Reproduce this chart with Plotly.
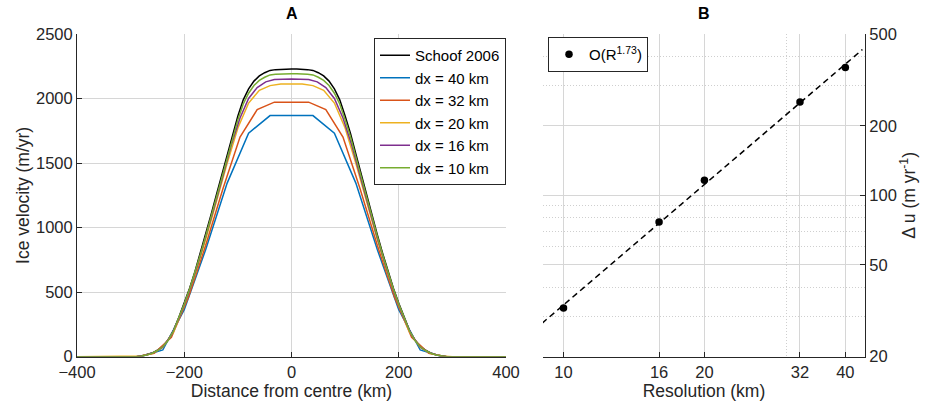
import numpy as np
import plotly.graph_objects as go

# ---------------- Panel A data (ice velocity, m/yr) ----------------
dist_10 = list(range(-400, 401, 10))
dist_16 = list(range(-400, 401, 16))
dist_20 = list(range(-400, 401, 20))
dist_32 = list(range(-384, 385, 32))
dist_40 = list(range(-400, 401, 40))

schoof_2006 = [0, 0, 0, 0, 0, 0, 0, 0, 0, 0, 0, 0,
               6, 14, 28, 50, 80, 130, 205, 305, 414, 530, 660, 800, 945, 1100, 1255,
               1410, 1570, 1730, 1865, 1990, 2075, 2135, 2175, 2200, 2218, 2224, 2227, 2228,
               2228,
               2228, 2227, 2224, 2218, 2200, 2175, 2135, 2075, 1990, 1865, 1730, 1570, 1410,
               1255, 1100, 945, 800, 660, 530, 414, 305, 205, 130, 80, 50, 28, 14, 6,
               0, 0, 0, 0, 0, 0, 0, 0, 0, 0, 0, 0]

vel_dx10 = [0, 0, 0, 0, 0, 0, 0, 0, 0, 0, 0, 0,
            6, 13, 27, 48, 77, 127, 201, 301, 409, 524, 652, 790, 933, 1086, 1238,
            1390, 1548, 1704, 1836, 1958, 2041, 2101, 2140, 2165, 2183, 2188, 2191, 2192,
            2192,
            2192, 2191, 2188, 2183, 2165, 2140, 2101, 2041, 1958, 1836, 1704, 1548, 1390,
            1238, 1086, 933, 790, 652, 524, 409, 301, 201, 127, 77, 48, 27, 13, 6,
            0, 0, 0, 0, 0, 0, 0, 0, 0, 0, 0, 0]

vel_dx16 = [0, 0, 0, 0, 0, 0, 0,
            1, 11, 34, 74, 168, 318, 492, 698, 920, 1160, 1399, 1644, 1850, 2001, 2085,
            2129, 2147, 2150,
            2151,
            2150, 2147, 2129, 2085, 2001, 1850, 1644, 1399, 1160, 920, 698, 492, 318, 168,
            74, 34, 11, 1,
            0, 0, 0, 0, 0, 0, 0]

vel_dx20 = [0, 0, 0, 0, 0, 0,
            5, 24, 71, 193, 398, 635, 908, 1202, 1498, 1772, 1965, 2064, 2100, 2112,
            2112,
            2112, 2100, 2064, 1965, 1772, 1498, 1202, 908, 635, 398, 193, 71, 24, 5,
            0, 0, 0, 0, 0, 0]

vel_dx32 = [0, 0, 0, 0,
            26, 151, 462, 863, 1299, 1701, 1914, 1972,
            1972,
            1972, 1914, 1701, 1299, 863, 462, 151, 26,
            0, 0, 0, 0]

vel_dx40 = [0, 0, 0,
            2, 52, 364, 830, 1345, 1732, 1868,
            1868,
            1868, 1732, 1345, 830, 364, 52, 2,
            0, 0, 0]

series_names = ["Schoof 2006", "dx = 40 km", "dx = 32 km", "dx = 20 km", "dx = 16 km", "dx = 10 km"]
series_x = [dist_10, dist_40, dist_32, dist_20, dist_16, dist_10]
series_y = [schoof_2006, vel_dx40, vel_dx32, vel_dx20, vel_dx16, vel_dx10]
series_colors = ["#000000", "#0072BD", "#D95319", "#EDB120", "#7E2F8E", "#77AC30"]

# ---------------- Panel B data ----------------
resolution_km = [10, 16, 20, 32, 40]
delta_u = [32.5, 76.6, 116.4, 254, 358]
fit_extent = [9, 43.5]

slope, intercept = np.polyfit(np.log10(resolution_km), np.log10(delta_u), 1)
fit_x = np.array(fit_extent, dtype=float)
fit_y = 10 ** (intercept + slope * np.log10(fit_x))

FONT = "Liberation Sans"
AX = "#262626"
GRID = "#d6d6d6"
MINOR = "#cfcfcf"
TICK_SIZE = 16.5
TITLE_SIZE = 17.5

fig = go.Figure()
for name, xs, ys, col in zip(series_names, series_x, series_y, series_colors):
    fig.add_trace(go.Scatter(x=xs, y=ys, mode="lines", name=name,
                             line=dict(color=col, width=1.5),
                             xaxis="x", yaxis="y", legend="legend"))

fig.add_trace(go.Scatter(x=fit_x, y=fit_y, mode="lines", showlegend=False,
                         line=dict(color="black", width=1.5, dash="6px,4px"),
                         xaxis="x2", yaxis="y2"))
fig.add_trace(go.Scatter(x=resolution_km, y=delta_u, mode="markers",
                         name="O(R<sup>1.73</sup>)",
                         marker=dict(color="black", size=7.5),
                         xaxis="x2", yaxis="y2", legend="legend2"))

common = dict(showline=True, linecolor=AX, linewidth=1, ticks="inside", ticklen=5,
              tickcolor=AX, tickfont=dict(family=FONT, size=TICK_SIZE, color=AX),
              showgrid=True, gridcolor=GRID, gridwidth=1, zeroline=False,
              mirror=False)

fig.update_layout(
    width=930, height=406, autosize=False,
    margin=dict(l=0, r=0, t=0, b=0),
    paper_bgcolor="white", plot_bgcolor="white",
    template="none",
    font=dict(family=FONT, color=AX),
    xaxis=dict(domain=[77 / 930, 506 / 930], range=[-400, 400],
               tickvals=[-400, -200, 0, 200, 400], anchor="y",
               title=dict(text="Distance from centre (km)", font=dict(size=TITLE_SIZE, color=AX), standoff=1),
               **common),
    yaxis=dict(domain=[(406 - 356.7) / 406, (406 - 34) / 406], range=[0, 2500],
               tickvals=[0, 500, 1000, 1500, 2000, 2500], anchor="x",
               title=dict(text="Ice velocity (m/yr)", font=dict(size=TITLE_SIZE, color=AX), standoff=1),
               **common),
    xaxis2=dict(domain=[543 / 930, 865 / 930], type="log",
                range=[np.log10(9.04), np.log10(44.06)],
                tickvals=resolution_km, ticktext=[str(v) for v in resolution_km],
                anchor="y2",
                minor=dict(tickvals=[9.05, 30], showgrid=True, griddash="1px,2px",
                           gridcolor=MINOR, ticks=""),
                title=dict(text="Resolution (km)", font=dict(size=TITLE_SIZE, color=AX), standoff=1),
                **common),
    yaxis2=dict(domain=[(406 - 356.7) / 406, (406 - 34) / 406], type="log",
                range=[np.log10(20), np.log10(500)], side="right", anchor="x2",
                tickvals=[20, 50, 100, 200, 500], ticktext=["20", "50", "100", "200", "500"],
                minor=dict(tickvals=[30, 40, 60, 70, 80, 90, 300, 400], showgrid=True,
                           griddash="1px,2px", gridcolor=MINOR, ticks=""),
                title=dict(text="Δ u (m yr<sup>-1</sup>)", font=dict(size=TITLE_SIZE, color=AX), standoff=6),
                **common),
    legend=dict(x=506 / 930, xanchor="right", y=(406 - 38) / 406, yanchor="top",
                bgcolor="white", bordercolor=AX, borderwidth=1,
                font=dict(family=FONT, size=15, color="#000000"),
                tracegroupgap=0, itemwidth=30),
    legend2=dict(x=548 / 930, xanchor="left", y=(406 - 37) / 406, yanchor="top",
                 bgcolor="white", bordercolor=AX, borderwidth=1,
                 font=dict(family=FONT, size=15, color="#000000"),
                 itemwidth=30),
    annotations=[
        dict(text="<b>A</b>", x=291.5 / 930, y=(406 - 14) / 406, xref="paper", yref="paper",
             showarrow=False, font=dict(family=FONT, size=16, color="#000000"),
             xanchor="center", yanchor="middle"),
        dict(text="<b>B</b>", x=704 / 930, y=(406 - 14) / 406, xref="paper", yref="paper",
             showarrow=False, font=dict(family=FONT, size=16, color="#000000"),
             xanchor="center", yanchor="middle"),
    ],
)

fig.write_html("out.html")
